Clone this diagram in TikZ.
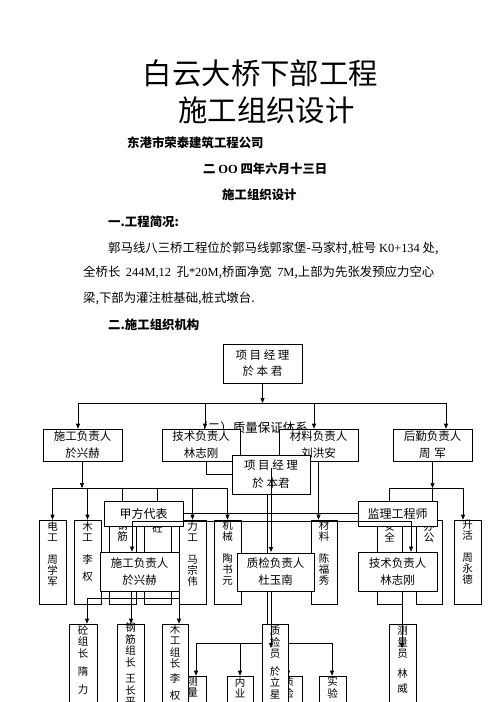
\documentclass[tikz,border=0pt]{standalone}
\usepackage{fontspec}
\setmainfont{Noto Sans CJK SC}
\newfontfamily\lat{Liberation Serif}
\usetikzlibrary{arrows.meta}
\newcommand\fs[2]{\fontsize{#1}{#2}\selectfont}
\newcommand\vcell[8]{%
  \node[cell, minimum width={(#3)-(#2)}, minimum height={(#5)-(#4)}] (#1) at ({((#2)+(#3))/2},{((#4)+(#5))/2}) {};
  \node[#7] (#1t) at ({((#2)+(#3))/2},#6) {#8};}
\begin{document}
\begin{tikzpicture}[x=1pt,y=-1pt,
  box/.style={draw, fill=white, line width=0.6pt, inner sep=0pt, align=center, font=\fs{11.5}{17}},
  cell/.style={draw, fill=white, line width=0.6pt, inner sep=0pt},
  vtxt/.style={inner sep=0pt, align=center, anchor=north, font=\fs{10.5}{11}},
  gtxt/.style={inner sep=0pt, align=center, anchor=north, font=\fs{10.5}{11.5}},
  ln/.style={line width=0.6pt},
  arr/.style={line width=0.6pt, -{Triangle[length=5pt,width=4pt]}},
  tarr/.style={line width=0.9pt, -{Triangle[length=5pt,width=4pt]}},
  txt/.style={inner sep=0pt, anchor=west, font=\fs{12.4}{14}},
  btxt/.style={inner sep=0pt, anchor=west, font=\fs{12.4}{14}\bfseries}]
\useasboundingbox[fill=white] (0,0) rectangle (496,702);
\clip (0,0) rectangle (496,702);

% ---------- header text ----------
\node[inner sep=0pt, font=\fs{29.4}{30}] (t1) at (260.5,73) {白云大桥下部工程};
\node[inner sep=0pt, font=\fs{29.4}{30}] (t2) at (266.5,110) {施工组织设计};
\node[btxt] (co) at (127,143) {东港市荣泰建筑工程公司};
\node[btxt] (dt) at (203,169) {二 {\lat OO} 四年六月十三日};
\node[btxt] (sub) at (222,195) {施工组织设计};
\node[btxt] (s1) at (108,222) {一.工程简况:};
\node[txt] (p1) at (108,248) {郭马线八三桥工程位於郭马线郭家堡-马家村,桩号 {\lat K0+134} 处,};
\node[txt] (p2) at (83,272) {全桥长\ \ {\lat 244M,12}\ \ 孔{\lat *20M},桥面净宽\ \ {\lat 7M},上部为先张发预应力空心};
\node[txt] (p3) at (83,298) {梁,下部为灌注桩基础,桩式墩台.};
\node[btxt] (s2) at (108,325) {二.施工组织机构};

% ---------- text behind chart ----------
\node[inner sep=0pt, font=\fs{12.5}{14}] (qs) at (251.5,428) {（二）质量保证体系};

% ---------- chart A ----------
\node[box, minimum width=79pt, minimum height=39pt, font=\fs{11.5}{16}] (pm1) at (262.5,363.5) {项 目 经 理\\於 本 君};
\node[box, minimum width=79pt, minimum height=32pt] (h1) at (82.5,445) {施工负责人\\於兴赫};
\node[box, minimum width=78pt, minimum height=32pt] (h2) at (201,445) {技术负责人\\林志刚};
\node[box, minimum width=79pt, minimum height=32pt] (h3) at (318.5,445) {材料负责人\\刘洪安};
\node[box, minimum width=79pt, minimum height=32pt] (h4) at (432.5,445) {后勤负责人\\周\hspace{4pt}军};

\coordinate (aC) at (262.5,403);
\coordinate (aL) at (78,403);
\coordinate (a2) at (205,403);
\coordinate (a3) at (314,403);
\coordinate (aR) at (446,403);
\draw[arr] (pm1.south) -- (aC);
\draw[ln] (aL) -- (aR);
\draw[arr] (aL) -- (aL |- h1.north);
\draw[arr] (a2) -- (a2 |- h2.north);
\draw[arr] (a3) -- (a3 |- h3.north);
\draw[arr] (aR) -- (aR |- h4.north);

\vcell{rA1}{39}{66}{520}{604}{521}{vtxt}{电\\工\\\mbox{}\\周\\学\\军}
\vcell{rA2}{74}{101}{520}{604}{521}{vtxt}{木\\工\\\mbox{}\\李\\[6pt]权}
\vcell{rA3}{109}{136}{520}{604}{521}{vtxt}{钢\\筋}
\vcell{rA4}{144}{171}{520}{604}{521}{vtxt}{\mbox{}\\砼}
\vcell{rA5}{179}{206}{520}{604}{521}{vtxt}{力\\工\\\mbox{}\\马\\宗\\伟}
\vcell{rA6}{214}{241}{520}{604}{520}{vtxt}{机\\械\\\mbox{}\\陶\\书\\元}
\vcell{rA7}{311}{337}{520}{604}{520}{vtxt}{材\\料\\\mbox{}\\陈\\福\\秀}
\vcell{rA8}{377}{402}{520}{604}{521}{vtxt}{安\\全}
\vcell{rA9}{416}{442}{520}{604}{521}{vtxt}{办\\公}
\vcell{rA10}{454}{481}{520}{604}{520}{vtxt}{升\\活\\\mbox{}\\周\\永\\德}

\coordinate (bA) at (82,488);
\draw[arr] (bA |- h1.south) -- (bA);
\draw[ln] (rA1.north |- bA) -- (rA6.north |- bA);
\foreach \n in {rA1,rA2,rA5,rA6} \draw[arr] (\n.north |- bA) -- (\n.north);
\foreach \n in {rA3,rA4} \draw[ln] (\n.north |- bA) -- (\n.north);
\draw[arr] (h3.south) -- (h3.south |- rA7.north);
\coordinate (bB) at (433,488);
\coordinate (bBR) at (463,488);
\draw[arr] (h4.south) -- (h4.south |- bB);
\draw[ln] (rA8.north |- bB) -- (bBR);
\draw[ln] (rA8.north |- bB) -- (rA8.north);
\draw[ln] (h4.south |- bB) -- (h4.south |- rA9.north);
\draw[arr] (bBR) -- (bBR |- rA10.north);

% ---------- chart B ----------
\node[box, minimum width=78pt, minimum height=39pt, font=\fs{11.5}{18}] (pm2) at (271,474.5) {项 目 经 理\\於 本君};
\coordinate (tL) at (206,474);
\draw[ln] (tL |- h2.south) -- (tL) -- (tL -| pm2.west);
\coordinate (c267) at (267,553);
\draw[ln] (c267 |- pm2.south) -- (c267);
\coordinate (c271a) at (271,468);
\coordinate (c271b) at (271,552);
\draw[tarr] (c271a) -- (c271b);

\node[box, minimum width=79pt, minimum height=25pt, font=\fs{12}{14}] (jf) at (143.5,513.5) {甲方代表};
\node[box, minimum width=79pt, minimum height=25pt, font=\fs{12}{14}] (jl) at (397.5,513.5) {监理工程师};
\draw[ln] (jf.east) -- (jl.west);
\coordinate (k1) at (132,521);
\coordinate (k2) at (411,521);
\draw[ln] (k1) -- (k2);

\node[box, minimum width=79pt, minimum height=39pt] (sg2) at (139.5,571.5) {施工负责人\\於兴赫};
\node[box, minimum width=77pt, minimum height=38pt] (qc) at (275.5,572) {质检负责人\\杜玉南};
\node[box, minimum width=79pt, minimum height=39pt] (tj2) at (397.5,571.5) {技术负责人\\林志刚};
\draw[tarr] (k1) -- (k1 |- sg2.north);
\draw[arr] (k2) -- (k2 |- tj2.north);

% lowest row under QC
\vcell{cl}{179}{206}{676}{730}{676.5}{gtxt}{测\\量}
\vcell{ny}{227}{253}{676}{730}{677}{gtxt}{内\\业}
\vcell{zj}{275}{302}{676}{730}{677}{gtxt}{质\\检}
\vcell{sy}{319}{346}{676}{730}{676.5}{gtxt}{实\\验}
\coordinate (n1) at (196,643);
\coordinate (n2) at (240,643);
\coordinate (n3) at (288,643);
\coordinate (n4) at (332,643);
\draw[ln] (n1) -- (n4);
\draw[arr] (n1) -- (n1 |- cl.north);
\draw[arr] (n2) -- (n2 |- ny.north);
\draw[arr] (n3) -- (n3 |- zj.north);
\draw[arr] (n4) -- (n4 |- sy.north);

% group leaders
\coordinate (m1) at (131,598);
\coordinate (mL) at (87,598);
\coordinate (mR) at (179,598);
\draw[ln] (m1 |- sg2.south) -- (m1);
\draw[ln] (mL) -- (mR);
\vcell{gB1}{69}{97}{624}{730}{625}{gtxt}{砼\\组\\长\\[7pt]隋\\[6pt]力}
\vcell{gB2}{117}{144}{624}{730}{623}{gtxt}{钢\\筋\\组\\长\\[5pt]王\\长\\平}
\vcell{gB3}{162}{188}{624}{730}{624}{gtxt}{木\\工\\组\\长\\[3pt]李\\[6pt]权}
\draw[tarr] (mL) -- (mL |- gB1.north);
\draw[tarr] (m1) -- (m1 |- gB2.north);
\draw[tarr] (mR) -- (mR |- gB3.north);

% QC inspector
\vcell{qcy}{262}{288}{624}{730}{626}{gtxt}{质\\检\\员\\[6pt]於\\立\\星}
\draw[ln] (c267 |- qc.south) -- (c267 |- qcy.north);
\coordinate (c271c) at (271,648);
\draw[tarr] (c271a |- qc.south) -- (c271c);

% surveyor
\vcell{ly}{389}{416}{624}{730}{626}{gtxt}{测\\量\\员\\[8pt]林\\[4pt]威}
\coordinate (lyA) at (402,648);
\draw[tarr] (lyA |- tj2.south) -- (lyA);
\end{tikzpicture}
\end{document}
